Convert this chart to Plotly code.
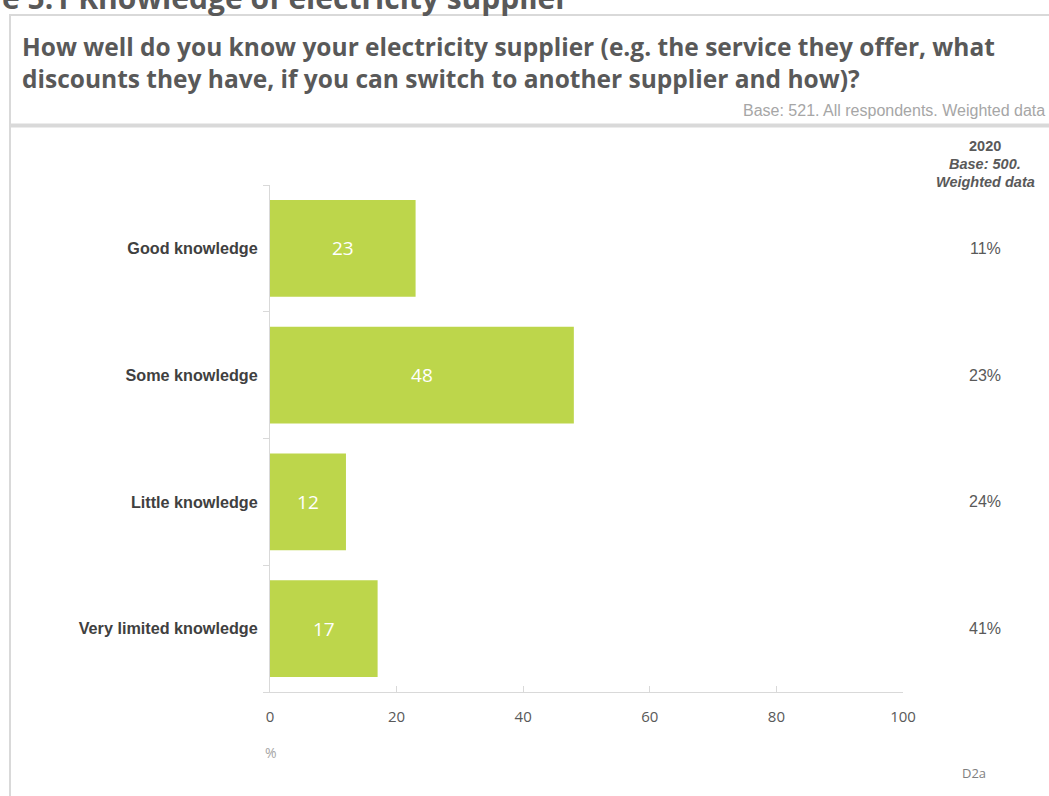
import plotly.graph_objects as go

# Survey results: knowledge of electricity supplier (%)
categories = ["Good knowledge", "Some knowledge", "Little knowledge", "Very limited knowledge"]
values_2022 = [23, 48, 12, 17]
values_2020 = ["11%", "23%", "24%", "41%"]
x_ticks = [0, 20, 40, 60, 80, 100]

W, H = 1049, 796
L, R, T, B = 270, 903, 185, 692  # plot area in pixels


def px(x):
    return (x - L) / (R - L)


def py(y):
    return (B - y) / (B - T)


BAR = "#bdd64b"
DARK = "#595959"
LIGHT = "#a6a6a6"
BORDER = "#d9d9d9"

fig = go.Figure()
fig.add_trace(go.Bar(
    x=values_2022,
    y=categories,
    orientation="h",
    marker=dict(color=BAR, line=dict(width=0)),
    text=values_2022,
    textposition="inside",
    insidetextanchor="middle",
    textfont=dict(color="white", size=19, family="Open Sans"),
    cliponaxis=False,
    hoverinfo="skip",
))

annotations = []
# 2020 comparison column
for cat, v in zip(categories, values_2020):
    annotations.append(dict(
        x=px(985), y=cat, xref="paper", yref="y", text=v, showarrow=False,
        xanchor="center", yanchor="middle",
        font=dict(family="Liberation Sans", size=16, color=DARK),
    ))

annotations += [
    dict(x=px(985), y=py(146), xref="paper", yref="paper", text="<b>2020</b>",
         showarrow=False, xanchor="center", yanchor="middle",
         font=dict(family="Liberation Sans", size=14.5, color=DARK)),
    dict(x=px(985), y=py(164), xref="paper", yref="paper", text="<b><i>Base: 500.</i></b>",
         showarrow=False, xanchor="center", yanchor="middle",
         font=dict(family="Liberation Sans", size=14.5, color=DARK)),
    dict(x=px(985), y=py(182), xref="paper", yref="paper", text="<b><i>Weighted data</i></b>",
         showarrow=False, xanchor="center", yanchor="middle",
         font=dict(family="Liberation Sans", size=14.5, color=DARK)),
    # question text
    dict(x=px(20), y=py(47), xref="paper", yref="paper",
         text="<b>How well do you know your electricity supplier (e.g. the service they offer, what</b>",
         showarrow=False, xanchor="left", yanchor="middle",
         font=dict(family="Open Sans", size=24.5, color=DARK)),
    dict(x=px(20), y=py(78), xref="paper", yref="paper",
         text="<b>discounts they have, if you can switch to another supplier and how)?</b>",
         showarrow=False, xanchor="left", yanchor="middle",
         font=dict(family="Open Sans", size=24.5, color=DARK)),
    # figure heading at the top edge
    dict(x=px(0), y=py(-3), xref="paper", yref="paper",
         text="<b>e 5.1 Knowledge of electricity supplier</b>",
         showarrow=False, xanchor="left", yanchor="middle",
         font=dict(family="Open Sans", size=30, color=DARK)),
    dict(x=px(1047), y=py(111), xref="paper", yref="paper",
         text="Base: 521. All respondents. Weighted data",
         showarrow=False, xanchor="right", yanchor="middle",
         font=dict(family="Liberation Sans", size=16, color=LIGHT)),
    dict(x=px(271), y=py(752), xref="paper", yref="paper", text="%",
         showarrow=False, xanchor="center", yanchor="middle",
         font=dict(family="Open Sans", size=14, color=LIGHT)),
    dict(x=px(974), y=py(773), xref="paper", yref="paper", text="D2a",
         showarrow=False, xanchor="center", yanchor="middle",
         font=dict(family="Open Sans", size=13, color="#7f7f7f")),
]

shapes = [
    # outer frame: left and top borders
    dict(type="line", xref="paper", yref="paper", x0=px(10), x1=px(10), y0=py(15), y1=py(800),
         line=dict(color=BORDER, width=2)),
    dict(type="line", xref="paper", yref="paper", x0=px(9), x1=px(1060), y0=py(15), y1=py(15),
         line=dict(color=BORDER, width=2)),
    # separator under the question
    dict(type="line", xref="paper", yref="paper", x0=px(9), x1=px(1060), y0=py(125.5), y1=py(125.5),
         line=dict(color=BORDER, width=4)),
]

fig.update_layout(
    width=W, height=H,
    margin=dict(l=L, r=W - R, t=T, b=H - B, pad=0),
    paper_bgcolor="white", plot_bgcolor="white",
    showlegend=False,
    bargap=0.235,
    annotations=annotations,
    shapes=shapes,
    xaxis=dict(
        range=[0, 100], tickvals=x_ticks, ticktext=[str(t) for t in x_ticks],
        showgrid=False, zeroline=False,
        showline=True, linecolor=BORDER, linewidth=1,
        ticks="inside", ticklen=6, tickcolor=BORDER,
        tickfont=dict(family="Open Sans", size=15, color=DARK),
        ticklabelstandoff=11,
        fixedrange=True,
    ),
    yaxis=dict(
        categoryorder="array", categoryarray=categories[::-1],
        showgrid=False, zeroline=False,
        showline=True, linecolor=BORDER, linewidth=1,
        ticks="outside", ticklen=6, tickcolor=BORDER,
        tickson="boundaries",
        tickfont=dict(family="Liberation Sans", size=16.2, color="#404040", weight="bold"),
        ticklabelstandoff=8,
        fixedrange=True,
    ),
)

fig.write_html("out.html")
